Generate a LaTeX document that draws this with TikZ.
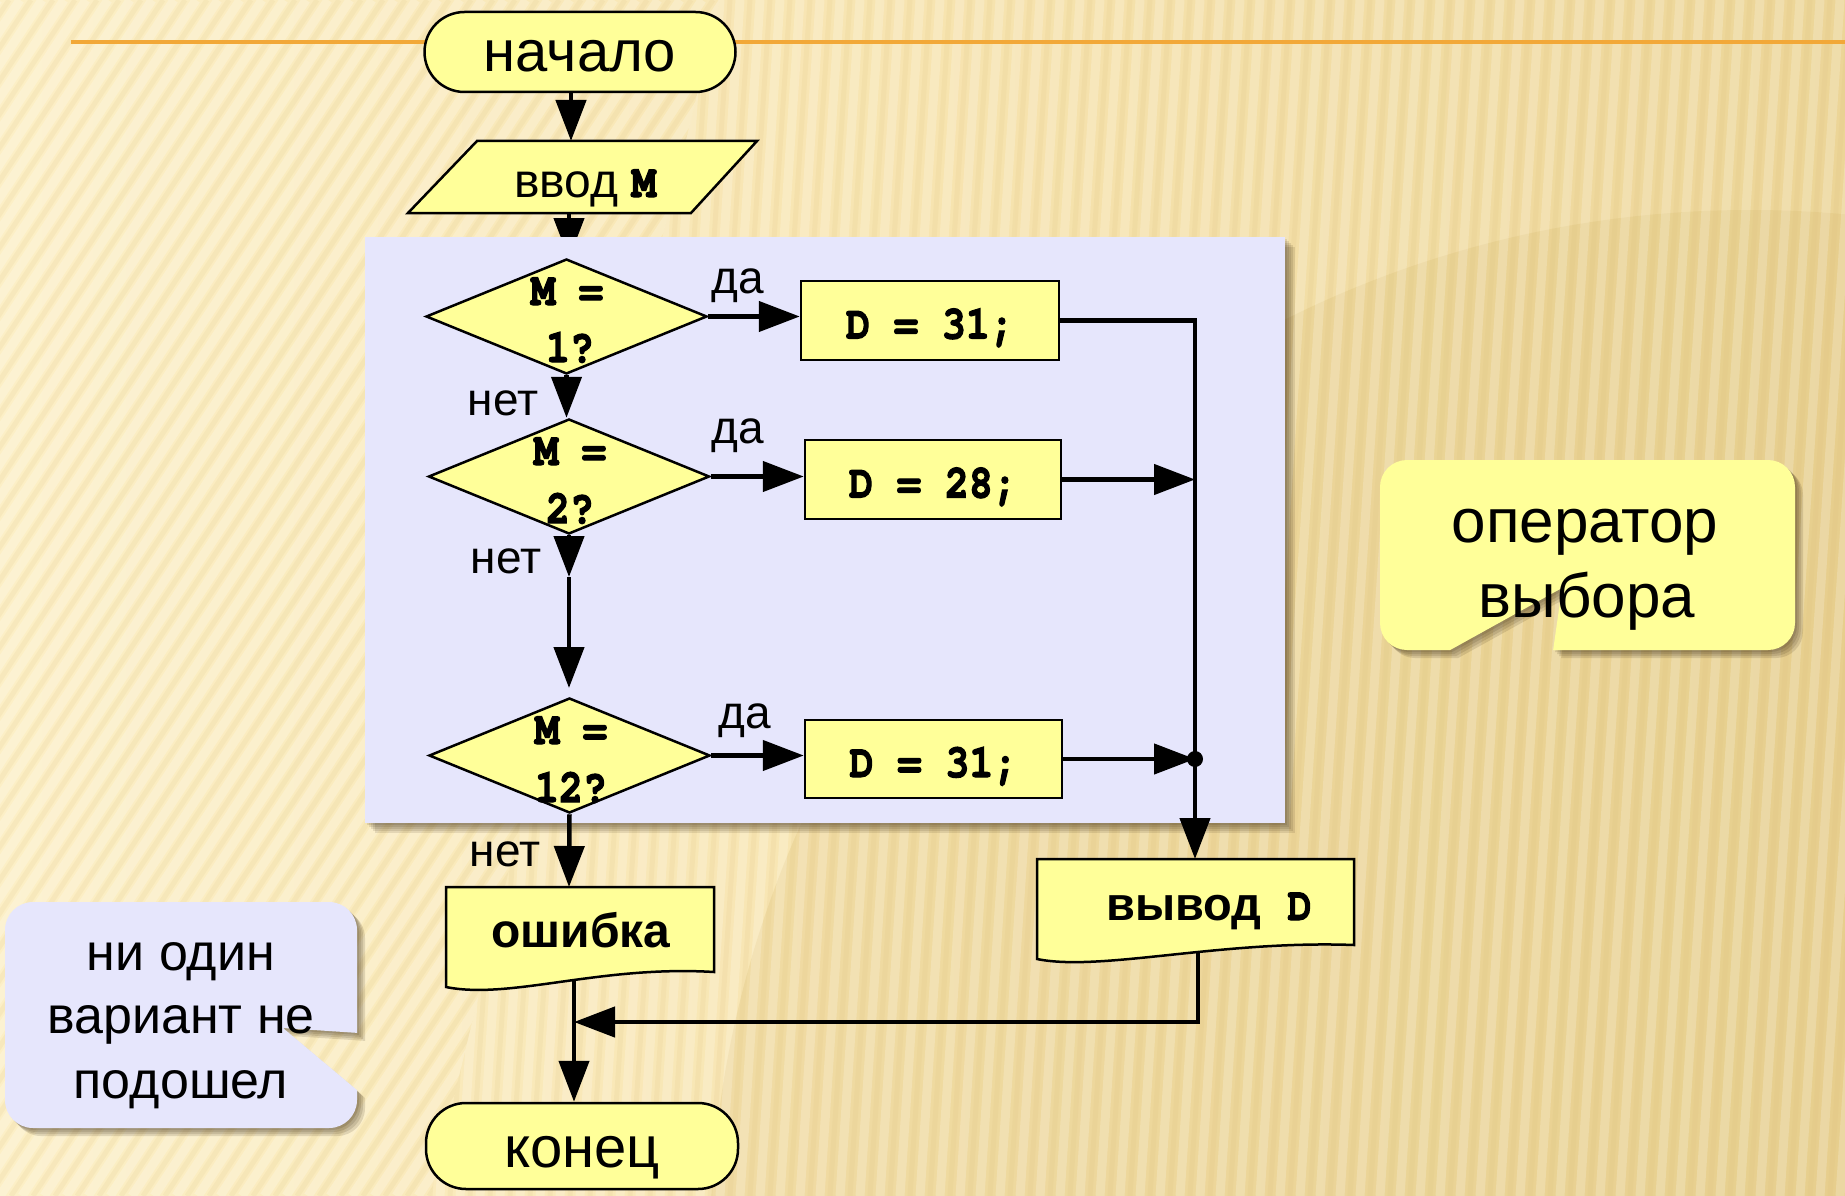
\documentclass[tikz,border=0pt]{standalone}
\usepackage{fontspec}
\setmainfont{Liberation Sans}
\newfontfamily\monof{TeX Gyre Cursor}[FakeStretch=0.85, BoldFeatures={FakeBold=2.5}]
\usetikzlibrary{arrows.meta,shapes.geometric}
\definecolor{bgA}{HTML}{FCEFC6}
\definecolor{bgB}{HTML}{F7E4B0}
\definecolor{bgC}{HTML}{ECD597}
\definecolor{bgD}{HTML}{D9BD72}
\definecolor{stripeD}{HTML}{D8BC78}
\definecolor{orng}{HTML}{F2A838}
\definecolor{yel}{HTML}{FFFF99}
\definecolor{lav}{HTML}{E6E6FC}
\definecolor{shd}{HTML}{2A1A05}
\tikzset{
  conn/.style={line width=4.5pt, black},
  arr/.style={conn, -{Triangle[length=41pt,width=30pt]}},
  box/.style={draw=black, line width=2.5pt, fill=yel},
  proc/.style={box, rectangle, minimum width=258pt, minimum height=79pt, inner sep=0pt,
    text height=36pt, text depth=0pt, font=\monof\bfseries\fontsize{47}{50}\selectfont},
  dec/.style={box, diamond, minimum width=281pt, minimum height=115pt, inner sep=0pt},
  term/.style={box, rectangle, rounded corners=40pt, minimum width=311pt, inner sep=0pt,
    text depth=0pt, font=\fontsize{58}{62}\selectfont},
  code/.style={font=\monof\bfseries\fontsize{47}{50}\selectfont, inner sep=0pt, anchor=base},
  lbl/.style={font=\fontsize{46}{50}\selectfont, inner sep=0pt, anchor=base},
  bold/.style={font=\bfseries\fontsize{47}{50}\selectfont, inner sep=0pt, anchor=base},
  note/.style={font=\fontsize{52}{56}\selectfont, inner sep=0pt, anchor=base},
  notebig/.style={font=\fontsize{62}{66}\selectfont, inner sep=0pt, anchor=base},
}
\newcommand\callA[2]{%
  \begin{scope}[shift={(#1,#1)}]
    \clip (-20,-20) -- (-20,1220) -- (1870,1220) -- (1870,-20) -- cycle
          (283,1028) -- (420,1037) -- (420,1143) -- cycle;
    \fill[#2, rounded corners=28pt] (5,902) rectangle (357,1128);
  \end{scope}}
\newcommand\callB[2]{%
  \begin{scope}[shift={(#1,#1)}]
    \clip (-20,-20) -- (-20,1220) -- (1870,1220) -- (1870,-20) -- cycle
          (1562,588) -- (1546,700) -- (1360,700) -- cycle;
    \fill[#2, rounded corners=27pt] (1380,460) rectangle (1795,650);
  \end{scope}}
\begin{document}
\begin{tikzpicture}[x=1pt,y=-1pt]
\useasboundingbox (0,0) rectangle (1845,1196);
% ---------- background ----------
\begin{scope}
  \clip (0,0) rectangle (1845,1196);
  \shade[left color=bgA, right color=bgC, middle color=bgB] (0,0) rectangle (1845,1196);
  \fill[bgD, opacity=.25] (1750,1250) circle (1040);
  \begin{scope}
    \clip (0,0) -- (720,0) -- (430,1196) -- (0,1196) -- cycle;
    \foreach \i in {-40,...,34} {
      \draw[white, opacity=.22, line width=9pt] (\i*22,1196) -- (\i*22+790,0);
      \draw[stripeD, opacity=.12, line width=5pt] (\i*22+11,1196) -- (\i*22+801,0);
    }
  \end{scope}
  \begin{scope}
    \clip (720,0) -- (1845,0) -- (1845,1196) -- (430,1196) -- cycle;
    \foreach \i in {0,...,75} {
      \draw[white, opacity=.2, line width=9pt] (380+\i*20,1196) -- (460+\i*20,0);
      \draw[stripeD, opacity=.12, line width=5pt] (390+\i*20,1196) -- (470+\i*20,0);
    }
  \end{scope}
\end{scope}
% ---------- title line ----------
\draw[orng, line width=4pt] (71,42) -- (1845,42);
% ---------- start and input ----------
\node[term, minimum height=80pt, text height=40pt] (start) at (580,52) {начало};
\draw[box] (408,213) -- (477,141) -- (757,141) -- (691,213) -- cycle;
\node[lbl, anchor=base, font=\fontsize{48}{50}\selectfont] (in) at (585,197) {ввод {\monof\bfseries\fontsize{47}{48}\selectfont M}};
\coordinate (inTop) at (571,141);
\coordinate (inBot) at (569,213);
\coordinate (d1top) at (569,259);
\draw[arr] (start.south -| inTop) -- (inTop);
\draw[arr] (inBot) -- (d1top);
% ---------- panel ----------
\foreach \o in {2,4,6,8,10} {
  \fill[shd, opacity=.11] (365+\o,237+\o) rectangle (1285+\o,823+\o);
}
\fill[lav] (365,237) rectangle (1285,823);
% ---------- decisions ----------
\node[dec] (d1) at (566.5,316.5) {};
\node[dec] (d2) at (569,476.5) {};
\node[dec] (d3) at (569.5,755.5) {};
\node[code] (d1a) at (567,305) {M =};
\node[code] (d1b) at (570,362) {1?};
\node[code] (d2a) at (570,465) {M =};
\node[code] (d2b) at (570,523) {2?};
\node[code] (d3a) at (571,744) {M =};
\node[code] (d3b) at (571,802) {12?};
% ---------- assignments ----------
\node[proc] (r1) at (930,320.5) {D = 31;};
\node[proc, minimum width=256pt] (r2) at (933,479.5) {D = 28;};
\node[proc, minimum width=257pt, minimum height=78pt] (r3) at (933.5,759) {D = 31;};
% ---------- labels ----------
\node[lbl] (y1) at (738,293) {да};
\node[lbl] (y2) at (738,443) {да};
\node[lbl] (y3) at (745,728) {да};
\node[lbl] (n1) at (503,415) {нет};
\node[lbl] (n2) at (506,573) {нет};
\node[lbl] (n3) at (505,866) {нет};
% ---------- output and error ----------
\draw[box] (1037,859) -- (1354,859) -- (1354,945) .. controls (1220,940) and (1100,972) .. (1037,959) -- cycle;
\node[bold] (out) at (1209,920) {вывод\hspace{26pt}{\monof\bfseries\fontsize{47}{48}\selectfont D}};
\draw[box] (446,887) -- (714,887) -- (714,972) .. controls (600,965) and (510,1000) .. (446,987) -- cycle;
\node[bold, font=\bfseries\fontsize{48}{50}\selectfont] (err) at (581,947) {ошибка};
\node[term, minimum height=86pt, text height=42pt, minimum width=312pt] (end) at (582,1146) {конец};
% ---------- connectors ----------
\coordinate (k1) at (569,577);
\coordinate (k2) at (569,688);
\coordinate (errTop) at (569,887);
\coordinate (outTop) at (1195,859);
\coordinate (outBot) at (1198,953);
\coordinate (errBot) at (574,980);
\coordinate (merge) at (574,1022);
\draw[arr] (d1.south) -- (d1.south |- d2.north);
\draw[arr] (d2.south) -- (k1);
\draw[arr] (k1) -- (k2);
\draw[arr] (d3.south) -- (errTop);
\draw[arr] (d1.east) -- (d1.east -| r1.west);
\draw[arr] (d2.east) -- (d2.east -| r2.west);
\draw[arr] (d3.east) -- (d3.east -| r3.west);
\draw[arr] (r1.east) -| (outTop);
\draw[arr] (r2.east) -- (r2.east -| outTop);
\draw[arr] (r3.east) -- (r3.east -| outTop);
\fill (r3.east -| outTop) circle (8);
\draw[arr] (outBot) |- (merge);
\draw[arr] (errBot) -- (errBot |- end.north);
% ---------- callouts ----------
\foreach \o in {2,4,6,8} { \callA{\o}{shd, opacity=.13} }
\callA{0}{lav}
\node[note] (na) at (181,970) {ни один};
\node[note] (nb) at (181,1033) {вариант не};
\node[note] (nc) at (181,1098) {подошел};
\foreach \o in {2,4,6,8} { \callB{\o}{shd, opacity=.13} }
\callB{0}{yel}
\node[notebig] (oa) at (1585,542) {оператор};
\node[notebig] (ob) at (1587,617) {выбора};
\end{tikzpicture}
\end{document}
